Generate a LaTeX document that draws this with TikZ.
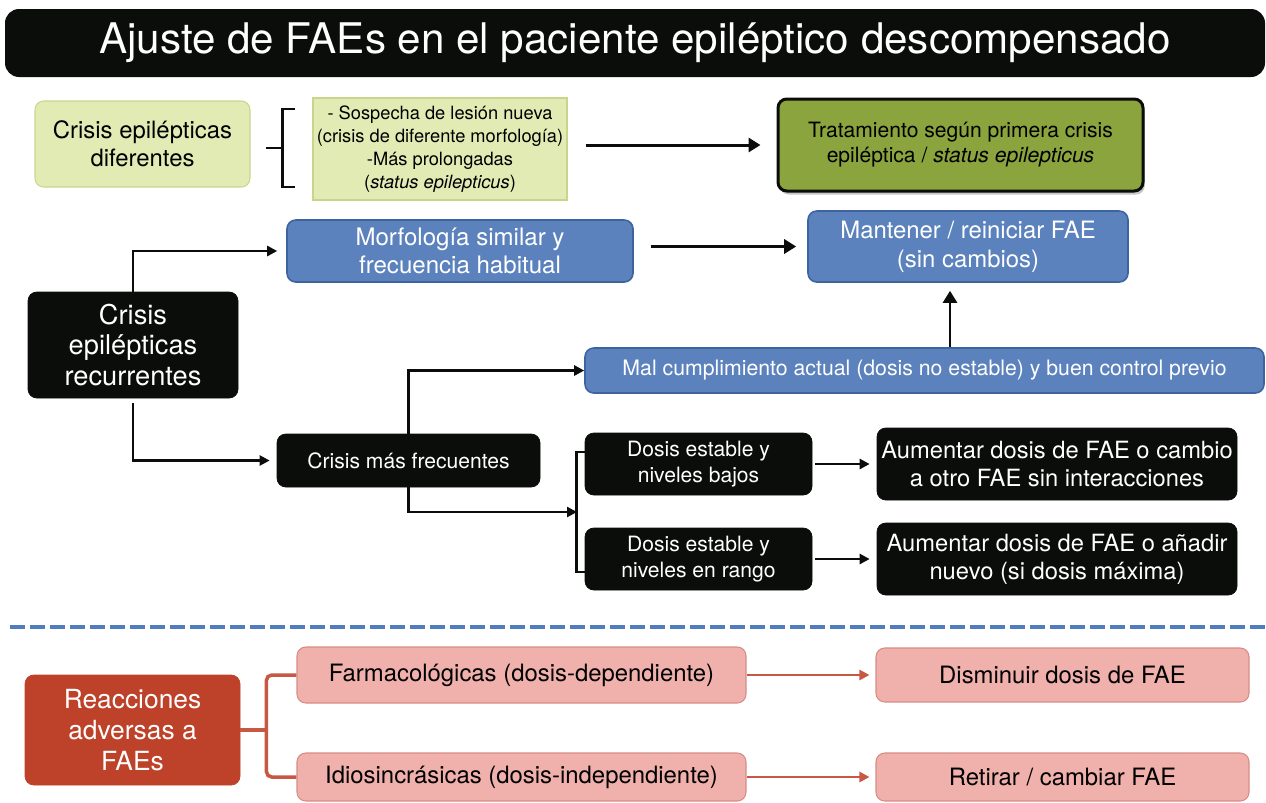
\documentclass[tikz,border=0pt]{standalone}
\usepackage{fontspec}
\setmainfont{TeX Gyre Heros}
\usetikzlibrary{arrows.meta,calc,shadows}

\definecolor{verdeclaro}{RGB}{227,235,181}
\definecolor{verdeborde}{RGB}{200,214,140}
\definecolor{oliva}{RGB}{139,164,62}
\definecolor{azul}{RGB}{91,130,189}
\definecolor{azulborde}{RGB}{62,100,160}
\definecolor{negro}{RGB}{10,13,10}
\definecolor{rojo}{RGB}{190,65,41}
\definecolor{rojolinea}{RGB}{198,88,68}
\definecolor{rosa}{RGB}{240,176,172}
\definecolor{rosaborde}{RGB}{216,140,134}
\definecolor{trazos}{RGB}{79,125,190}

\newcommand{\fz}[2]{\fontsize{#1}{#2}\selectfont}

\tikzset{
  sz/.style 2 args={minimum width=#1*0.02cm, minimum height=#2*0.02cm},
  caja/.style={rounded corners=5pt, inner sep=0pt, align=center},
  cajaverde/.style={caja, fill=verdeclaro, draw=verdeborde, line width=0.6pt},
  cajaoliva/.style={caja, fill=oliva, draw=negro, line width=1.7pt,
    drop shadow={shadow xshift=1pt, shadow yshift=-2pt, opacity=0.45}},
  cajaazul/.style={caja, fill=azul, draw=azulborde, line width=0.9pt, text=white},
  cajanegra/.style={caja, fill=negro, draw=negro, text=white},
  cajaroja/.style={caja, fill=rojo, draw=rojo, text=white},
  cajarosa/.style={caja, fill=rosa, draw=rosaborde, line width=0.6pt},
  linea/.style={draw=negro, line width=1.4pt},
  flecha/.style={draw=negro, line width=1.7pt, -{Triangle[length=0.24cm,width=0.28cm]}},
  flechita/.style={linea, -{Triangle[length=0.2cm,width=0.2cm]}},
  flecharoja/.style={draw=rojolinea, line width=1.5pt, -{Triangle[length=0.2cm,width=0.2cm]}},
  llaveroja/.style={draw=rojolinea, line width=2pt},
  separa/.style={draw=trazos, line width=1.9pt, dash pattern=on 0.3cm off 0.1cm}
}

\begin{document}
\begin{tikzpicture}[x=0.02cm, y=-0.02cm]
\useasboundingbox (0,0) rectangle (1266,802);

% Título
\node[caja, rounded corners=8pt, fill=negro, text=white, sz={1260}{68}, font=\fz{24}{28}] (titulo) at (635,43) {Ajuste de FAEs en el paciente epiléptico descompensado};

% Crisis diferentes
\node[cajaverde, sz={215}{86}, font=\fz{13.6}{16}] (difer) at (142.5,144) {Crisis epilépticas\\diferentes};
\node[cajaverde, sharp corners, sz={254}{102}, font=\fz{10.4}{13}] (lista) at (440,149) {- Sospecha de lesión nueva\\(crisis de diferente morfología)\\-Más prolongadas\\(\textit{status epilepticus})};
\node[cajaoliva, sz={365}{92}, font=\fz{12}{14.2}] (trat) at (960.5,145) {Tratamiento según primera crisis\\epiléptica / \textit{status epilepticus}};

% Crisis recurrentes
\node[cajaazul, sz={346}{62}, font=\fz{13.7}{16}] (morfo) at (460,251) {Morfología similar y\\frecuencia habitual};
\node[cajaazul, sz={320}{71}, font=\fz{13.6}{16.5}] (mant) at (968,246.5) {Mantener / reiniciar FAE\\(sin cambios)};
\node[cajanegra, sz={210}{106}, font=\fz{15.5}{17.6}] (recur) at (133,345) {Crisis\\epilépticas\\recurrentes};
\node[cajaazul, sz={679}{45}, font=\fz{12.1}{14}] (malcum) at (924.5,370.5) {Mal cumplimiento actual (dosis no estable) y buen control previo};
\node[cajanegra, sz={263}{53}, font=\fz{12}{14}] (frec) at (408.5,460.5) {Crisis más frecuentes};
\node[cajanegra, sz={227}{62}, font=\fz{12}{14.8}] (dbajos) at (698.5,464) {Dosis estable y\\niveles bajos};
\node[cajanegra, sz={227}{62}, font=\fz{12}{14.8}] (drango) at (698.5,559) {Dosis estable y\\niveles en rango};
\node[cajanegra, sz={360}{72}, font=\fz{13.5}{16}] (aum1) at (1057,464) {Aumentar dosis de FAE o cambio\\a otro FAE sin interacciones};
\node[cajanegra, sz={360}{72}, font=\fz{13.5}{16}] (aum2) at (1057,559) {Aumentar dosis de FAE o añadir\\nuevo (si dosis máxima)};

% Reacciones adversas
\node[cajaroja, sz={215}{110}, font=\fz{15}{17.8}] (reacc) at (132.5,730) {Reacciones\\adversas a\\FAEs};
\node[cajarosa, sz={449}{56}, font=\fz{13.6}{16}] (farma) at (521.5,675) {Farmacológicas (dosis-dependiente)};
\node[cajarosa, sz={449}{48}, font=\fz{13.6}{16}] (idio) at (521.5,777) {Idiosincrásicas (dosis-independiente)};
\node[cajarosa, sz={373}{54}, font=\fz{13.6}{16}] (dismi) at (1062.5,675) {Disminuir dosis de FAE};
\node[cajarosa, sz={373}{48}, font=\fz{13.6}{16}] (retir) at (1062.5,777) {Retirar / cambiar FAE};

\coordinate (ejeup) at (950,0);
\coordinate (llave) at (577,512);

% Conexiones
\draw[linea] ($(lista.west)+(-17,-40)$) -- ++(-13,0) -- ++(0,78) -- ++(13,0);
\draw[linea] ($(lista.west)+(-30,-1)$) -- ++(-16,0);
\draw[flecha, shorten <=0.36cm, shorten >=0.32cm] (trat.west -| lista.east) -- (trat.west);
\draw[flecha, shorten <=0.34cm, shorten >=0.22cm] (mant.west -| morfo.east) -- (mant.west);
\draw[flechita, shorten >=0.18cm] (recur.north) |- (morfo.west);
\draw[flechita, shorten <=0.1cm, shorten >=0.14cm] (recur.south) |- (frec.west);
\draw[flechita] (frec.north) |- (malcum.west);
\draw[flecha, line width=1.5pt, shorten >=0.16cm] (malcum.north -| ejeup) -- (mant.south -| ejeup);
\draw[flechita] (frec.south) |- (llave);
\draw[linea] ($(dbajos.west)+(0,-12)$) -- ++(-8,0) |- ($(drango.west)+(0,13)$);
\draw[flechita, shorten <=0.06cm, shorten >=0.14cm] (dbajos.east) -- (aum1.west);
\draw[flechita, shorten <=0.06cm, shorten >=0.14cm] (drango.east) -- (aum2.west);

% Separador
\draw[separa] (10,627) -- (1266,627);

% Reacciones
\draw[llaveroja] (reacc.east) -- ++(27,0);
\draw[llaveroja, rounded corners=3pt] (farma.west) -- ++(-30,0) |- (idio.west);
\draw[flecharoja, shorten >=0.12cm] (farma.east) -- (dismi.west);
\draw[flecharoja, shorten >=0.12cm] (idio.east) -- (retir.west);
\end{tikzpicture}
\end{document}
